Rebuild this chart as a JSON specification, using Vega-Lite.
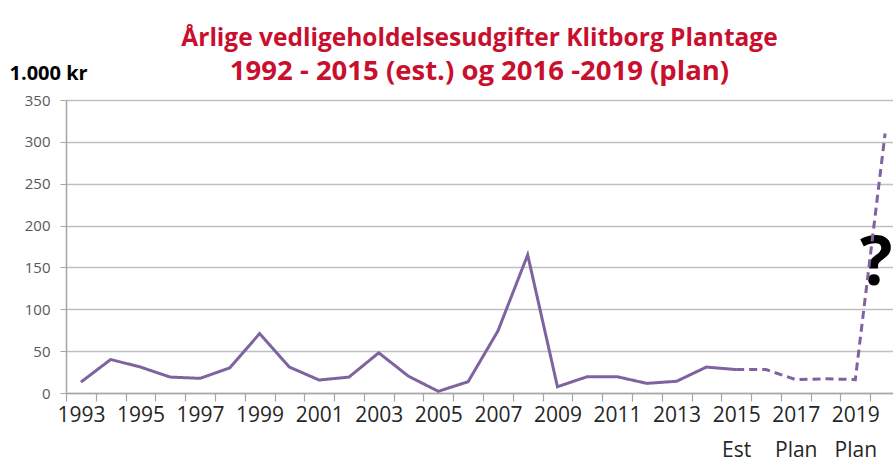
{
  "$schema": "https://vega.github.io/schema/vega-lite/v6.json",
  "width": 827,
  "height": 293,
  "autosize": "none",
  "padding": {"left": 66, "top": 100, "right": 0, "bottom": 71},
  "background": "white",
  "config": {
    "view": {"stroke": null},
    "font": "Open Sans"
  },
  "title": {
    "text": "Årlige vedligeholdelsesudgifter Klitborg Plantage",
    "subtitle": "1992 - 2015 (est.) og 2016 -2019 (plan)",
    "font": "Open Sans",
    "fontSize": 24.5,
    "fontWeight": "bold",
    "color": "#C8102E",
    "subtitleFont": "Open Sans",
    "subtitleFontSize": 27.5,
    "subtitleFontWeight": "bold",
    "subtitleColor": "#C8102E",
    "subtitlePadding": 6,
    "anchor": "middle",
    "frame": "group",
    "offset": -23
  },
  "datasets": {
    "costs": [
      {"year": 1993, "value": 13, "type": "Est"},
      {"year": 1994, "value": 40, "type": "Est"},
      {"year": 1995, "value": 31, "type": "Est"},
      {"year": 1996, "value": 19, "type": "Est"},
      {"year": 1997, "value": 17.5, "type": "Est"},
      {"year": 1998, "value": 30, "type": "Est"},
      {"year": 1999, "value": 71, "type": "Est"},
      {"year": 2000, "value": 31, "type": "Est"},
      {"year": 2001, "value": 15.5, "type": "Est"},
      {"year": 2002, "value": 19, "type": "Est"},
      {"year": 2003, "value": 48, "type": "Est"},
      {"year": 2004, "value": 20, "type": "Est"},
      {"year": 2005, "value": 2, "type": "Est"},
      {"year": 2006, "value": 13.5, "type": "Est"},
      {"year": 2007, "value": 74, "type": "Est"},
      {"year": 2008, "value": 165, "type": "Est"},
      {"year": 2009, "value": 7.5, "type": "Est"},
      {"year": 2010, "value": 19.5, "type": "Est"},
      {"year": 2011, "value": 19.5, "type": "Est"},
      {"year": 2012, "value": 11.5, "type": "Est"},
      {"year": 2013, "value": 14, "type": "Est"},
      {"year": 2014, "value": 31, "type": "Est"},
      {"year": 2015, "value": 28, "type": "Est"},
      {"year": 2015, "value": 28, "type": "Plan"},
      {"year": 2016, "value": 28, "type": "Plan"},
      {"year": 2017, "value": 16, "type": "Plan"},
      {"year": 2018, "value": 17, "type": "Plan"},
      {"year": 2019, "value": 16, "type": "Plan"},
      {"year": 2020, "value": 310, "type": "Plan"}
    ],
    "marks": [
      {"year": 2020, "value": 153, "note": "?"}
    ]
  },
  "layer": [
    {
      "data": {"name": "marks"},
      "mark": {"type": "text", "fontSize": 68, "fontWeight": "bold", "font": "Open Sans", "color": "black", "dx": -9, "baseline": "middle", "align": "center"},
      "encoding": {
        "x": {"field": "year", "type": "ordinal"},
        "y": {"field": "value", "type": "quantitative"},
        "text": {"field": "note"}
      }
    },
    {
      "data": {"name": "costs"},
      "mark": {"type": "line", "strokeWidth": 3, "color": "#7F63A1"},
      "encoding": {
        "x": {
          "field": "year",
          "type": "ordinal",
          "sort": "ascending",
          "scale": {"domain": [1993,1994,1995,1996,1997,1998,1999,2000,2001,2002,2003,2004,2005,2006,2007,2008,2009,2010,2011,2012,2013,2014,2015,2016,2017,2018,2019,2020], "range": [0, 834], "paddingInner": 0, "paddingOuter": 0},
          "axis": {
            "title": null,
            "labelAngle": 0,
            "labelExpr": "datum.value % 2 == 1 ? (datum.value == 2015 ? ['2015', 'Est'] : (datum.value >= 2017 ? [datum.label, 'Plan'] : datum.label)) : ''",
            "labelFontSize": 21,
            "labelColor": "#262626",
            "labelLineHeight": 35,
            "labelBaseline": "top",
            "labelAlign": "center",
            "labelOffset": 0,
            "labelPadding": 3,
            "tickBand": "extent",
            "tickSize": 8,
            "tickColor": "#A6A6A6",
            "domainColor": "#A6A6A6",
            "domainWidth": 1.5,
            "tickWidth": 1.2,
            "labelOverlap": false,
            "labelFlush": false
          }
        },
        "y": {
          "field": "value",
          "type": "quantitative",
          "scale": {"domain": [0, 350], "nice": false},
          "axis": {
            "values": [0, 50, 100, 150, 200, 250, 300, 350],
            "title": "1.000 kr",
            "titleAngle": 0,
            "titleAlign": "left",
            "titleBaseline": "middle",
            "titleX": -57,
            "titleY": -27,
            "titleFontSize": 20,
            "titleFontWeight": "bold",
            "titleColor": "#000000",
            "labelFontSize": 15,
            "labelColor": "#595959",
            "labelPadding": 10,
            "tickSize": 6,
            "tickColor": "#A6A6A6",
            "domainColor": "#A6A6A6",
            "domainWidth": 1.5,
            "gridColor": "#BFBFBF",
            "gridWidth": 1.5
          }
        },
        "strokeDash": {
          "field": "type",
          "type": "nominal",
          "scale": {"domain": ["Est", "Plan"], "range": [[1, 0], [8, 5]]},
          "legend": null
        }
      }
    }
  ]
}
